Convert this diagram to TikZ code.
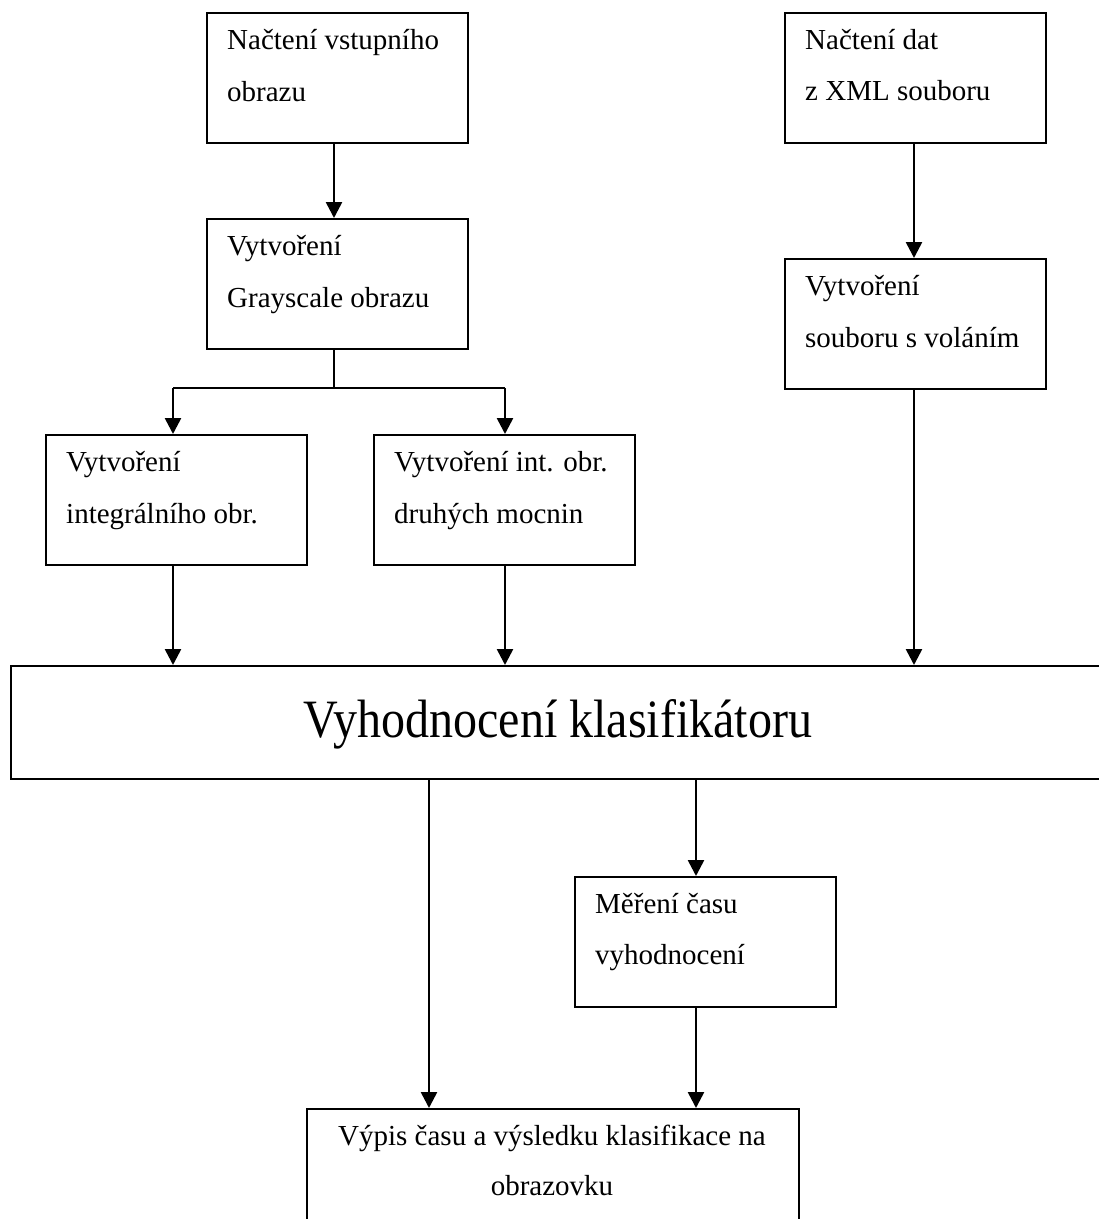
\documentclass[tikz,border=0pt]{standalone}
\usepackage{fontspec}
\usepackage{graphicx}
\usetikzlibrary{arrows.meta,calc}
\newfontfamily\tnr{Liberation Serif}
\newcommand\boxfont{\tnr\fontsize{29}{35}\selectfont}
\newcommand\bigfont{\tnr\fontsize{54}{60}\selectfont}
\tikzset{
  box/.style={draw, line width=2.2pt, minimum width=261pt, minimum height=130pt, inner sep=0pt, anchor=north west},
  txt/.style={anchor=base west, inner sep=0pt, font=\boxfont},
  ctxt/.style={anchor=base, inner sep=0pt, font=\boxfont},
  arr/.style={line width=2.6pt, -{Triangle[width=16pt,length=16pt]}},
  thin/.style={line width=1.6pt}
}
\begin{document}
\begin{tikzpicture}[x=1pt,y=-1pt]
\clip (0,0) rectangle (1099,1219);
\useasboundingbox (0,0) rectangle (1099,1219);
\fill[white] (0,0) rectangle (1099,1219);

% boxes
\node[box] (b1) at (206,12) {};
\node[box] (b2) at (206,218) {};
\node[box] (b3) at (45,434) {};
\node[box] (b4) at (373,434) {};
\node[box] (b5) at (784,12) {};
\node[box] (b6) at (784,258) {};
\node[box, minimum width=1098pt, minimum height=113pt] (main) at (10,665) {};
\node[box] (b7) at (574,876) {};
\node[box, minimum width=492pt, minimum height=160pt] (b8) at (306,1108) {};

% texts
\node[txt] (t1a) at ($(b1.north west)+(21,37)$) {Načtení vstupního};
\node[txt] (t1b) at ($(b1.north west)+(21,89)$) {obrazu};
\node[txt] (t2a) at ($(b2.north west)+(21,37)$) {Vytvoření};
\node[txt] (t2b) at ($(b2.north west)+(21,89)$) {Grayscale obrazu};
\node[txt] (t3a) at ($(b3.north west)+(21,37)$) {Vytvoření};
\node[txt] (t3b) at ($(b3.north west)+(21,89)$) {integrálního obr.};
\node[txt] (t4a) at ($(b4.north west)+(21,37)$) {Vytvoření int. obr.};
\node[txt] (t4b) at ($(b4.north west)+(21,89)$) {druhých mocnin};
\node[txt] (t5a) at ($(b5.north west)+(21,37)$) {Načtení dat};
\node[txt] (t5b) at ($(b5.north west)+(21,88)$) {z XML souboru};
\node[txt] (t6a) at ($(b6.north west)+(21,37)$) {Vytvoření};
\node[txt] (t6b) at ($(b6.north west)+(21,89)$) {souboru s voláním};
\node[txt] (t7a) at ($(b7.north west)+(21,37)$) {Měření času};
\node[txt] (t7b) at ($(b7.north west)+(21,88)$) {vyhodnocení};
\node[ctxt] (t8a) at (552,1145) {Výpis času a výsledku klasifikace na};
\node[ctxt] (t8b) at (552,1195) {obrazovku};
\node[anchor=base, inner sep=0pt] (tm) at (558,737) {\scalebox{0.89}[1]{\bigfont Vyhodnocení klasifikátoru}};

% connector x positions
\coordinate (xa) at (334,0);
\coordinate (x3) at (173,0);
\coordinate (x4) at (505,0);
\coordinate (x6) at (914,0);
\coordinate (xl) at (429,0);
\coordinate (xr) at (696,0);
\coordinate (split) at (334,388);

% connectors
\draw[arr] (b1.south -| xa) -- (b2.north -| xa);
\draw[thin] (b2.south -| xa) -- (split);
\draw[thin] (split -| x3) -- (split -| x4);
\draw[arr] (split -| x3) -- (b3.north -| x3);
\draw[arr] (split -| x4) -- (b4.north -| x4);
\draw[arr] (b5.south -| x6) -- (b6.north -| x6);
\draw[arr] (b3.south -| x3) -- (main.north -| x3);
\draw[arr] (b4.south -| x4) -- (main.north -| x4);
\draw[arr] (b6.south -| x6) -- (main.north -| x6);
\draw[arr] (main.south -| xl) -- (b8.north -| xl);
\draw[arr] (main.south -| xr) -- (b7.north -| xr);
\draw[arr] (b7.south -| xr) -- (b8.north -| xr);
\end{tikzpicture}
\end{document}
